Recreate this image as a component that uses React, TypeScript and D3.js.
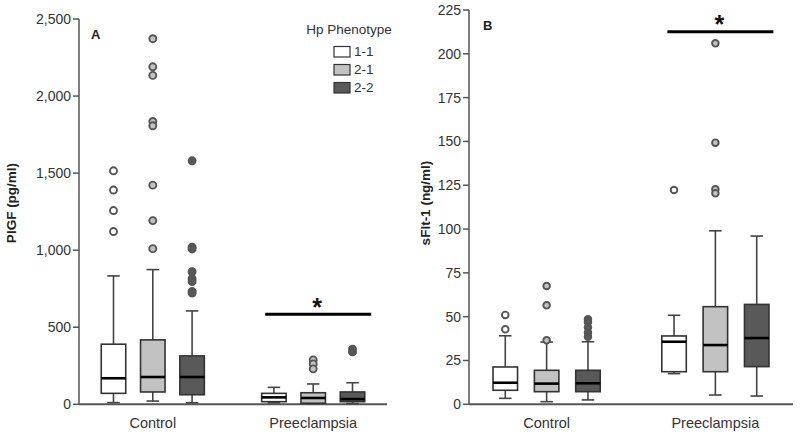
import React from "react";
import * as d3 from "d3";

const categories = ["Control", "Preeclampsia"];
const phenotypes = ["1-1", "2-1", "2-2"];
const phenotypeFill = ["#ffffff", "#c2c2c2", "#595959"];

// order: Control 1-1, 2-1, 2-2, Preeclampsia 1-1, 2-1, 2-2
const plgfLow = [11, 21, 10, 10, 3, 5];
const plgfQ1 = [71, 80, 62, 17, 7, 17];
const plgfMedian = [169, 177, 177, 45, 41, 34];
const plgfQ3 = [390, 418, 314, 71, 75, 80];
const plgfHigh = [833, 874, 606, 110, 132, 140];
const plgfOutliers = [
  [1515, 1390, 1257, 1121],
  [2372, 2190, 2134, 1835, 1807, 1422, 1192, 1010],
  [1580, 1020, 1008, 860, 815, 796, 733, 722],
  [],
  [288, 262, 230],
  [358, 340],
];
const plgfTicks = [0, 500, 1000, 1500, 2000, 2500];
const plgfSignif = 584;

const sfltLow = [3.4, 1.5, 2.5, 17.5, 5.3, 4.7];
const sfltQ1 = [8, 7.2, 7.2, 18.6, 18.6, 21.5];
const sfltMedian = [12.3, 11.8, 12, 35.7, 33.8, 37.8];
const sfltQ3 = [21.3, 19.4, 19.4, 39, 55.7, 57];
const sfltHigh = [39.1, 35.5, 35.7, 50.8, 99, 96];
const sfltOutliers = [
  [51, 42.8],
  [67.5, 56.5, 36.5],
  [48.5, 47, 44, 41, 38.5],
  [122.3],
  [206, 149.3, 122.7, 120.4],
  [],
];
const sfltTicks = [0, 25, 50, 75, 100, 125, 150, 175, 200, 225];
const sfltSignif = 212.6;

const FONT = "'Liberation Sans', Arial, sans-serif";

type PanelProps = {
  x0: number;
  x1: number;
  yBottom: number;
  yTop: number;
  maxVal: number;
  ticks: number[];
  fmt: (v: number) => string;
  low: number[];
  q1: number[];
  med: number[];
  q3: number[];
  high: number[];
  outliers: number[][];
  signif: number;
  yLabel: string;
  yLabelX: number;
  letter: string;
  letterX: number;
  letterY: number;
  outlierR: number;
};

function Panel(p: PanelProps) {
  const x = d3.scalePoint<string>().domain(categories).range([p.x0, p.x1]).padding(0.46);
  const step = x.step();
  const sub = d3
    .scalePoint<string>()
    .domain(phenotypes)
    .range([-0.245 * step, 0.245 * step]);
  const y = d3.scaleLinear().domain([0, p.maxVal]).range([p.yBottom, p.yTop]);
  const boxW = 24.5;
  const capW = 12.5;
  const axisColor = "#555";
  const items: React.ReactNode[] = [];
  categories.forEach((c, ci) => {
    phenotypes.forEach((ph, pi) => {
      const i = ci * 3 + pi;
      const cx = (x(c) as number) + (sub(ph) as number);
      const fill = phenotypeFill[pi];
      items.push(
        <g key={`b${i}`}>
          <line x1={cx} x2={cx} y1={y(p.high[i])} y2={y(p.q3[i])} stroke="#444" strokeWidth={1.6} />
          <line x1={cx} x2={cx} y1={y(p.low[i])} y2={y(p.q1[i])} stroke="#444" strokeWidth={1.6} />
          <line x1={cx - capW / 2} x2={cx + capW / 2} y1={y(p.high[i])} y2={y(p.high[i])} stroke="#444" strokeWidth={1.6} />
          <line x1={cx - capW / 2} x2={cx + capW / 2} y1={y(p.low[i])} y2={y(p.low[i])} stroke="#444" strokeWidth={1.6} />
          <rect
            x={cx - boxW / 2}
            y={y(p.q3[i])}
            width={boxW}
            height={y(p.q1[i]) - y(p.q3[i])}
            fill={fill}
            stroke="#333"
            strokeWidth={1.6}
          />
          <line x1={cx - boxW / 2} x2={cx + boxW / 2} y1={y(p.med[i])} y2={y(p.med[i])} stroke="#000" strokeWidth={2.6} />
          {p.outliers[i].map((v, k) => (
            <circle key={k} cx={cx} cy={y(v)} r={p.outlierR} fill={fill} stroke="#555" strokeWidth={1.9} />
          ))}
        </g>
      );
    });
  });
  const pc = x(categories[1]) as number;
  const sy = y(p.signif);
  return (
    <g fontFamily={FONT}>
      {/* y axis */}
      <line x1={p.x0} x2={p.x0} y1={y(0)} y2={y(p.maxVal)} stroke={axisColor} strokeWidth={1.5} />
      {p.ticks.map((t) => (
        <g key={t}>
          <line x1={p.x0 - 6} x2={p.x0} y1={y(t)} y2={y(t)} stroke={axisColor} strokeWidth={1.5} />
          <text x={p.x0 - 8} y={y(t)} dy="0.35em" textAnchor="end" fontSize={14} fill="#333">
            {p.fmt(t)}
          </text>
        </g>
      ))}
      {/* x axis */}
      <line x1={p.x0} x2={p.x1} y1={y(0)} y2={y(0)} stroke={axisColor} strokeWidth={2} />
      {categories.map((c) => (
        <text key={c} x={x(c)} y={428} textAnchor="middle" fontSize={14.5} fill="#333">
          {c}
        </text>
      ))}
      <text
        transform={`translate(${p.yLabelX},203) rotate(-90)`}
        textAnchor="middle"
        dy="0.35em"
        fontSize={13.5}
        fontWeight="bold"
        fill="#222"
      >
        {p.yLabel}
      </text>
      <text x={p.letterX} y={p.letterY} fontSize={13} fontWeight="bold" fill="#222">
        {p.letter}
      </text>
      {items}
      <line x1={pc - 48} x2={pc + 58} y1={sy} y2={sy} stroke="#000" strokeWidth={3} />
      <text x={pc + 4} y={sy + 1.5} textAnchor="middle" fontSize={25} fontWeight="bold" fill="#111">
        *
      </text>
    </g>
  );
}

export default function App() {
  const fmtA = d3.format(",");
  const fmtB = d3.format("d");
  return (
    <svg
      width={800}
      height={436}
      style={{ position: "absolute", left: 0, top: 0, background: "#fff" }}
    >
      <rect width={800} height={436} fill="#fff" />
      <Panel
        x0={79}
        x1={387}
        yBottom={404.3}
        yTop={19}
        maxVal={2500}
        ticks={plgfTicks}
        fmt={fmtA}
        low={plgfLow}
        q1={plgfQ1}
        med={plgfMedian}
        q3={plgfQ3}
        high={plgfHigh}
        outliers={plgfOutliers}
        signif={plgfSignif}
        yLabel="PlGF (pg/ml)"
        yLabelX={11}
        letter="A"
        letterX={91}
        letterY={39}
        outlierR={3.5}
      />
      <Panel
        x0={469}
        x1={793}
        yBottom={404.3}
        yTop={10}
        maxVal={225}
        ticks={sfltTicks}
        fmt={fmtB}
        low={sfltLow}
        q1={sfltQ1}
        med={sfltMedian}
        q3={sfltQ3}
        high={sfltHigh}
        outliers={sfltOutliers}
        signif={sfltSignif}
        yLabel="sFlt-1 (ng/ml)"
        yLabelX={425}
        letter="B"
        letterX={483}
        letterY={30}
        outlierR={3.3}
      />
      <g fontFamily={FONT} fill="#333">
        <text x={349} y={34} textAnchor="middle" fontSize={13.5}>
          Hp Phenotype
        </text>
        {phenotypes.map((ph, i) => (
          <g key={ph}>
            <rect
              x={334}
              y={46.5 + i * 18}
              width={16}
              height={10.5}
              fill={phenotypeFill[i]}
              stroke="#333"
              strokeWidth={1.2}
            />
            <text x={354} y={51.7 + i * 18} dy="0.35em" fontSize={13.5}>
              {ph}
            </text>
          </g>
        ))}
      </g>
    </svg>
  );
}
